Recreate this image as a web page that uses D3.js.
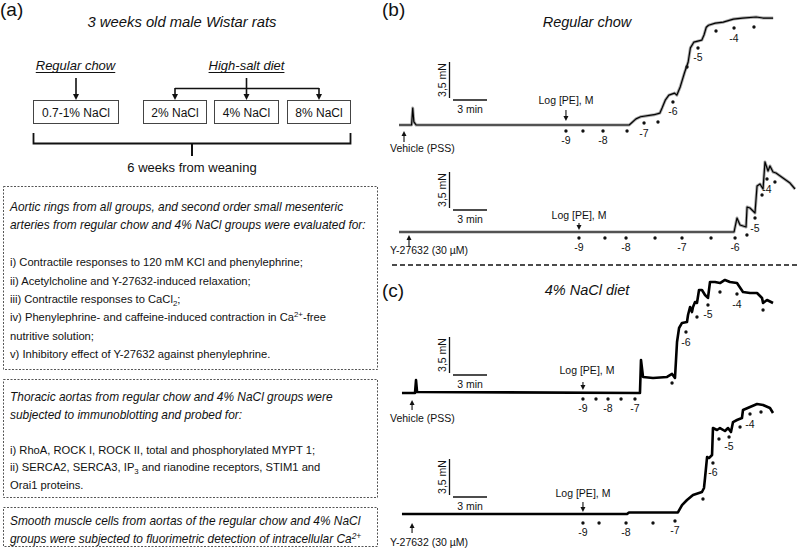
<!DOCTYPE html>
<html><head><meta charset="utf-8">
<script src="https://cdn.jsdelivr.net/npm/d3@7"></script>
<style>body{margin:0;background:#fff}svg{display:block}</style>
</head><body>
<svg id="c" width="800" height="548"></svg>
<script>
// ---------------- DATA ----------------
const titleA = "3 weeks old male Wistar rats";
const groupHeads = ["Regular chow", "High-salt diet"];
const diets = ["0.7-1% NaCl", "2% NaCl", "4% NaCl", "8% NaCl"];
const durationLabel = "6 weeks from weaning";
const box1Lines = [
  "Aortic rings from all groups, and second order small mesenteric",
  "arteries from regular chow and 4% NaCl groups were evaluated for:",
  "",
  "i) Contractile responses to 120 mM KCl and phenylephrine;",
  "ii) Acetylcholine and Y-27632-induced relaxation;",
  "iii) Contractile responses to CaCl_{2};",
  "iv) Phenylephrine- and caffeine-induced contraction in Ca^{2+}-free",
  "nutritive solution;",
  "v) Inhibitory effect of Y-27632 against phenylephrine."
];
const box2Lines = [
  "Thoracic aortas from regular chow and 4% NaCl groups were",
  "subjected to immunoblotting and probed for:",
  "",
  "i) RhoA, ROCK I, ROCK II, total and phosphorylated MYPT 1;",
  "ii) SERCA2, SERCA3, IP_{3} and rianodine receptors, STIM1 and",
  "Orai1 proteins."
];
const box3Lines = [
  "Smooth muscle cells from aortas of  the regular chow and 4% NaCl",
  "groups were subjected to fluorimetric detection of intracellular Ca^{2+}"
];
const italicCounts = [2, 2, 2];

const panelTitles = ["Regular chow", "4% NaCl diet"];
const startLabels = ["Vehicle (PSS)", "Y-27632 (30 µM)", "Vehicle (PSS)", "Y-27632 (30 µM)"];
const startTimes = [0.53, 0.97, 1.24, 1.24];      // min
const doseAxisLabel = "Log [PE], M";
const scaleBarText = ["3,5 mN", "3 min"];
const scaleBarValues = [3.5, 3];                   // mN, min

// traces: [time (min), tension (mN)]
const traceB1 = [[0.09,0],[1.2,0],[1.3,1.65],[1.4,0.3],[1.6,0],[20.4,0],[21.0,0.6],[21.4,0.8],[22.6,1.0],[23.1,1.15],[23.3,1.65],[23.6,2.45],[23.9,2.9],[24.4,3.1],[24.6,2.9],[24.9,3.7],[25.3,5.15],[25.6,6.1],[25.8,7.5],[26.1,8.05],[26.8,8.25],[27.0,8.75],[27.2,9.5],[27.4,9.7],[28.0,9.9],[28.7,10.0],[29.6,10.3],[30.4,10.4],[31.6,10.5],[32.2,10.4],[33.1,10.4]];
const traceB2 = [[0.09,0],[29.65,0],[29.91,1.36],[30.18,0.68],[30.71,0.49],[30.8,2.43],[31.06,2.33],[31.5,1.85],[31.68,4.47],[31.94,4.67],[32.21,4.18],[32.38,6.81],[32.65,5.93],[32.82,6.42],[33.09,5.83],[33.35,5.74],[33.97,5.25],[34.59,4.76],[35.03,4.18]];
const traceC1 = [[0.35,0],[1.5,0],[1.59,1.26],[1.68,0.1],[21.35,0],[21.44,3.21],[21.62,1.56],[22.5,1.46],[23.74,1.56],[24.18,1.85],[24.44,1.46],[24.62,4.96],[24.8,6.32],[25.06,6.81],[25.5,6.9],[25.59,7.58],[25.77,8.36],[25.94,7.87],[26.03,8.36],[26.21,8.85],[26.38,8.75],[26.56,10.01],[26.82,10.01],[27.09,9.53],[27.35,9.24],[27.53,10.79],[27.97,10.79],[28.41,10.69],[28.85,10.99],[29.29,10.79],[29.91,10.69],[30.44,9.82],[31.06,9.72],[31.68,9.72],[32.12,9.24],[32.21,8.75],[32.56,9.04],[33.09,8.75]];
const traceC2 = [[0.35,0],[20.21,0],[20.38,0.15],[24.7,0.15],[25.06,0.87],[25.5,1.36],[26.03,1.85],[26.82,2.14],[27.0,2.53],[27.09,3.5],[27.27,5.54],[27.44,5.44],[27.71,5.74],[27.79,8.36],[28.15,8.17],[28.41,8.36],[28.85,8.07],[29.12,8.36],[29.38,7.97],[29.56,8.94],[29.91,9.14],[30.35,9.33],[30.44,10.11],[31.06,10.4],[31.68,10.69],[32.21,10.6],[32.82,10.31],[33.09,9.82]];

// dose markers: [time (min), level (mN)] and log[PE] labels
const dotsB1 = [[14.82,-0.58],[16.32,-0.58],[18.09,-0.58],[20.21,-0.58],[21.71,0.19],[22.94,0.29],[24.26,2.24],[25.5,5.64],[26.47,7.49],[28.06,9.14],[29.65,9.43],[31.41,9.53]];
const dotsB2 = [[15.97,-0.58],[18.26,-0.58],[20.12,-0.58],[22.68,-0.58],[25.06,-0.58],[27.62,-0.58],[29.74,-0.58],[30.79,-0.29],[31.5,1.36],[32.12,3.6],[32.56,5.15],[33.26,4.86]];
const dotsC1 = [[16.32,-0.58],[17.47,-0.58],[18.53,-0.58],[19.68,-0.58],[20.91,-0.58],[24.18,0.97],[25.41,5.93],[26.38,7.39],[27.35,8.56],[28.41,9.82],[29.91,9.62],[32.21,8.07]];
const dotsC2 = [[16.32,-0.87],[17.74,-0.87],[20.12,-0.87],[22.5,-0.87],[24.44,-0.68],[26.91,1.46],[27.79,4.96],[28.32,7.29],[29.21,7.49],[30.18,8.46],[31.06,9.72],[32.03,9.92]];
const doseLabels = ["-9","","-8","","-7","","-6","","-5","","-4",""];

// ---------------- DRAW ----------------
const FONT = "'Liberation Sans', Arial, Helvetica, sans-serif";
const svg = d3.select("#c").style("font-family", FONT);
const ink = "#111";

function rich(sel, str) {
  const parts = str.split(/([_^]\{[^}]*\})/);
  let shift = 0;
  parts.forEach(p => {
    if (!p) return;
    if ((p[0] === "_" || p[0] === "^") && p[1] === "{") {
      const d = p[0] === "_" ? 3 : -4;
      sel.append("tspan").attr("dy", d).attr("font-size", "70%").text(p.slice(2, -1));
      shift = d;
    } else {
      const t = sel.append("tspan").text(p);
      if (shift) { t.attr("dy", -shift); shift = 0; }
    }
  });
}

function arrowV(g, x, y0, tip, head, w) {
  const dir = tip > y0 ? 1 : -1;
  g.append("line").attr("x1", x).attr("x2", x).attr("y1", y0).attr("y2", tip - dir * head * 0.8)
    .attr("stroke", ink).attr("stroke-width", w);
  g.append("path").attr("d", d3.line()([[x - head / 2, tip - dir * head], [x + head / 2, tip - dir * head], [x, tip]]) + "Z")
    .attr("fill", ink);
}

// ---- panel (a) ----
const gA = svg.append("g");
gA.append("text").attr("x", 0).attr("y", 16).attr("font-size", 19).attr("fill", ink).text("(a)");
gA.append("text").attr("x", 182).attr("y", 27).attr("text-anchor", "middle").attr("font-size", 14.8)
  .attr("font-style", "italic").attr("fill", ink).text(titleA);

const boxX = [[33, 118], [143, 206], [214, 278], [287, 350]];
const headX = [75.5, 246.5];
groupHeads.forEach((h, i) => {
  const t = gA.append("text").attr("x", headX[i]).attr("y", 70).attr("text-anchor", "middle")
    .attr("font-size", 13).attr("font-style", "italic").attr("fill", ink).text(h);
  const w = t.node().getComputedTextLength();
  gA.append("line").attr("x1", headX[i] - w / 2).attr("x2", headX[i] + w / 2).attr("y1", 72.5).attr("y2", 72.5)
    .attr("stroke", ink).attr("stroke-width", 1);
});
diets.forEach((d, i) => {
  const [x0, x1] = boxX[i];
  gA.append("rect").attr("x", x0 + 0.5).attr("y", 100.5).attr("width", x1 - x0).attr("height", 23)
    .attr("fill", "none").attr("stroke", "#444").attr("stroke-width", 1);
  gA.append("text").attr("x", (x0 + x1) / 2 + 0.5).attr("y", 116.5).attr("text-anchor", "middle")
    .attr("font-size", 12).attr("fill", ink).text(d);
});
const cx = boxX.map(b => (b[0] + b[1]) / 2 + 0.5);
arrowV(gA, cx[0], 78, 100, 6, 1.6);
gA.append("line").attr("x1", cx[2]).attr("x2", cx[2]).attr("y1", 78).attr("y2", 89).attr("stroke", ink).attr("stroke-width", 1.6);
gA.append("line").attr("x1", cx[1]).attr("x2", cx[3]).attr("y1", 88.5).attr("y2", 88.5).attr("stroke", ink).attr("stroke-width", 1.6);
[1, 2, 3].forEach(i => arrowV(gA, cx[i], 88, 100, 6, 1.6));
// brace
gA.append("path").attr("d", d3.line()([[33.5, 133], [33.5, 143.5], [350.5, 143.5], [350.5, 133]]))
  .attr("fill", "none").attr("stroke", ink).attr("stroke-width", 1.8);
gA.append("line").attr("x1", 192).attr("x2", 192).attr("y1", 143).attr("y2", 156).attr("stroke", ink).attr("stroke-width", 2);
gA.append("text").attr("x", 192).attr("y", 172).attr("text-anchor", "middle").attr("font-size", 13).attr("fill", ink).text(durationLabel);

// dashed boxes
const boxes = [
  {lines: box1Lines, top: 186.5, first: 211, step: 18.4, bottom: 369.5},
  {lines: box2Lines, top: 379.5, first: 401, step: 17.6, bottom: 497.5},
  {lines: box3Lines, top: 507.5, first: 525, step: 17.6, bottom: 546.5}
];
boxes.forEach((b, bi) => {
  gA.append("rect").attr("x", 3.5).attr("y", b.top).attr("width", 374).attr("height", b.bottom - b.top)
    .attr("fill", "none").attr("stroke", "#555").attr("stroke-width", 1).attr("stroke-dasharray", "2,1.5");
  b.lines.forEach((ln, li) => {
    if (!ln) return;
    const it = li < italicCounts[bi];
    const t = gA.append("text").attr("x", 10).attr("y", b.first + li * b.step)
      .attr("font-size", it ? 11.9 : 11.2).attr("font-style", it ? "italic" : null).attr("fill", ink);
    rich(t, ln);
  });
});

// ---- panels (b), (c) ----
const x = d3.scaleLinear().domain([0, 36]).range([398, 398 + 36 * 34 / 3]);
const panels = [
  {trace: traceB1, dots: dotsB1, base: 125, sbY: 100, logY: 104, logArr: [110, 121], stArr: [142, 131], stY: 152, logDx: 0, thick: false},
  {trace: traceB2, dots: dotsB2, base: 232, sbY: 210, logY: 219, logArr: [223, 230], stArr: [247, 235], stY: 254, logDx: 0, thick: false},
  {trace: traceC1, dots: dotsC1, base: 393, sbY: 375, logY: 374, logArr: [382, 390], stArr: [410, 400], stY: 422, logDx: 4, thick: true},
  {trace: traceC2, dots: dotsC2, base: 514, sbY: 497, logY: 497, logArr: [502, 512], stArr: [533, 523], stY: 546, logDx: 0, thick: true}
];

svg.append("text").attr("x", 382).attr("y", 16).attr("font-size", 19).attr("fill", ink).text("(b)");
svg.append("text").attr("x", 382).attr("y", 297).attr("font-size", 19).attr("fill", ink).text("(c)");
svg.append("text").attr("x", 587).attr("y", 27).attr("text-anchor", "middle").attr("font-size", 14.5)
  .attr("font-style", "italic").attr("fill", ink).text(panelTitles[0]);
svg.append("text").attr("x", 587).attr("y", 295).attr("text-anchor", "middle").attr("font-size", 14.5)
  .attr("font-style", "italic").attr("fill", ink).text(panelTitles[1]);
svg.append("line").attr("x1", 392).attr("x2", 800).attr("y1", 265).attr("y2", 265)
  .attr("stroke", ink).attr("stroke-width", 1.4).attr("stroke-dasharray", "5,3");

panels.forEach((p, pi) => {
  const g = svg.append("g");
  const y = d3.scaleLinear().domain([0, scaleBarValues[0]]).range([p.base, p.base - 36]);
  const line = d3.line().x(d => x(d[0])).y(d => y(d[1]));
  if (!p.thick) {
    g.append("path").attr("d", line(p.trace)).attr("fill", "none").attr("stroke", "#000")
      .attr("stroke-opacity", 0.35).attr("stroke-width", 3).attr("stroke-linejoin", "round");
    g.append("path").attr("d", line(p.trace)).attr("fill", "none").attr("stroke", "#000")
      .attr("stroke-width", 1.2).attr("stroke-linejoin", "round");
  } else {
    g.append("path").attr("d", line(p.trace)).attr("fill", "none").attr("stroke", "#000")
      .attr("stroke-width", 2.6).attr("stroke-linejoin", "round");
  }
  g.selectAll("circle").data(p.dots).join("circle")
    .attr("cx", d => x(d[0])).attr("cy", d => y(d[1])).attr("r", 1.7).attr("fill", ink);
  g.selectAll("text.dl").data(p.dots).join("text").attr("class", "dl")
    .attr("x", d => x(d[0])).attr("y", d => y(d[1]) + 13.5).attr("text-anchor", "middle")
    .attr("font-size", 10.5).attr("fill", ink).text((d, i) => doseLabels[i]);
  const sbx = 449.5, vTop = p.sbY - 2 - (y(0) - y(scaleBarValues[0]));
  g.append("line").attr("x1", sbx).attr("x2", sbx).attr("y1", vTop).attr("y2", p.sbY - 2)
    .attr("stroke", ink).attr("stroke-width", 1.3);
  g.append("line").attr("x1", x(0) + 55).attr("x2", x(scaleBarValues[1]) + 55).attr("y1", p.sbY).attr("y2", p.sbY)
    .attr("stroke", ink).attr("stroke-width", 1.3);
  g.append("text").attr("transform", `translate(${sbx - 4},${(vTop + p.sbY - 2) / 2}) rotate(-90)`)
    .attr("text-anchor", "middle").attr("font-size", 10.5).attr("fill", ink).text(scaleBarText[0]);
  g.append("text").attr("x", (x(0) + x(scaleBarValues[1])) / 2 + 55).attr("y", p.sbY + 12.5)
    .attr("text-anchor", "middle").attr("font-size", 10.5).attr("fill", ink).text(scaleBarText[1]);
  const lx = x(p.dots[0][0]);
  g.append("text").attr("x", lx + p.logDx).attr("y", p.logY).attr("text-anchor", "middle")
    .attr("font-size", 10.5).attr("fill", ink).text(doseAxisLabel);
  arrowV(g, lx, p.logArr[0], p.logArr[1], 5, 1.1);
  const sx = x(startTimes[pi]);
  arrowV(g, sx, p.stArr[0], p.stArr[1], 5, 1.1);
  g.append("text").attr("x", 390).attr("y", p.stY).attr("font-size", 10.5).attr("fill", ink).text(startLabels[pi]);
});
</script>
</body></html>
